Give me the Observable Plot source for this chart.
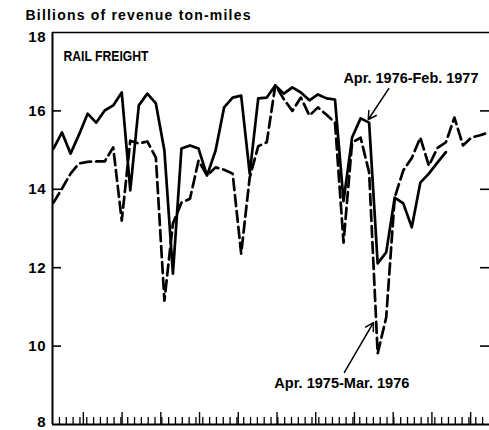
<!DOCTYPE html>
<html><head><meta charset="utf-8">
<script src="https://cdn.jsdelivr.net/npm/d3@7"></script>
<script src="https://cdn.jsdelivr.net/npm/@observablehq/plot@0.6"></script>
<style>body{margin:0;background:#fff}#chart{width:489px;height:430px}</style>
</head><body><div id="chart"></div>
<script>
// Weekly rail freight, billions of revenue ton-miles (week index from April)
const solidValues = [15.04, 15.45, 14.91, 15.40, 15.93, 15.70, 16.01, 16.14, 16.47, 13.97,
  16.14, 16.44, 16.19, 14.99, 11.85, 15.04, 15.12, 15.04, 14.35, 14.99,
  16.09, 16.34, 16.39, 14.40, 16.32, 16.34, 16.65, 16.44, 16.60, 16.47,
  16.27, 16.42, 16.32, 16.29, 13.70, 15.32, 15.81, 15.70, 12.11, 12.39,
  13.79, 13.64, 13.03, 14.17, 14.40, 14.68, 14.95];
const dashedValues = [13.66, 14.02, 14.40, 14.66, 14.70, 14.71, 14.71, 15.07, 13.20, 15.24,
  15.17, 15.22, 14.81, 11.16, 13.13, 13.66, 13.76, 14.73, 14.35, 14.56,
  14.50, 14.40, 12.36, 14.30, 15.10, 15.20, 16.65, 16.30, 16.00, 16.34,
  15.88, 16.09, 15.90, 15.70, 12.64, 15.19, 15.32, 14.43, 9.81, 10.73,
  13.79, 14.48, 14.80, 15.32, 14.60, 15.05, 15.20, 15.83, 15.12, 15.32,
  15.38, 15.45];
const yTickValues = [8, 10, 12, 14, 16, 18];
const yTickLabels = ["8", "10", "12", "14", "16", "18"];
const innerTickValues = [10, 12, 14, 16];
const minorTicks = d3.range(0.7, 51.1, 0.8);
const majorTicks = d3.range(3.5, 51.1, 4.54);
const titleText = "Billions of revenue ton-miles";
const panelLabel = "RAIL FREIGHT";
const seriesLabels = [
  {text: "Apr. 1976-Feb. 1977", x: 41.9, y: 16.70},
  {text: "Apr. 1975-Mar. 1976", x: 33.8, y: 8.92}
];
const arrowsData = [
  {x1: 39.3, y1: 16.57, x2: 36.9, y2: 15.78},
  {x1: 34.1, y1: 9.33, x2: 37.5, y2: 10.6}
];

const W = 489, H = 430, mL = 52, mR = 0, mT = 32, mB = 6;
const xDom = [-0.117, 51.11], yDom = [8, 18];
const pxX = (W - mL - mR) / (xDom[1] - xDom[0]);
const pxY = (H - mT - mB) / (yDom[1] - yDom[0]);
const sans = "'Liberation Sans', Arial, Helvetica, sans-serif";
const labelShift = d => d === 18 ? 5 : d === 8 ? -2 : 0;

const chart = Plot.plot({
  width: W, height: H,
  marginLeft: mL, marginRight: mR, marginTop: mT, marginBottom: mB,
  x: {domain: xDom, axis: null},
  y: {domain: yDom, axis: null},
  style: {background: "#fff", color: "#000"},
  marks: [
    Plot.ruleY([18], {stroke: "#000", strokeWidth: 1.6}),
    Plot.ruleY([8], {stroke: "#000", strokeWidth: 2}),
    Plot.ruleX([xDom[0]], {stroke: "#000", strokeWidth: 2}),
    Plot.ruleY(innerTickValues, {y: d => d, x1: xDom[0], x2: xDom[0] + 9 / pxX, stroke: "#000", strokeWidth: 1.6}),
    Plot.ruleY(innerTickValues, {y: d => d, x1: xDom[1] - 9 / pxX, x2: xDom[1], stroke: "#000", strokeWidth: 1.6}),
    Plot.ruleX(minorTicks, {x: d => d, y1: 8, y2: 8 + 7 / pxY, stroke: "#000", strokeWidth: 1.3}),
    Plot.ruleX(majorTicks, {x: d => d, y1: 8, y2: 8 + 12 / pxY, stroke: "#000", strokeWidth: 1.4}),
    Plot.line(dashedValues, {x: (d, i) => i, y: d => d, stroke: "#000", strokeWidth: 2.7, strokeDasharray: "11,5"}),
    Plot.line(solidValues, {x: (d, i) => i, y: d => d, stroke: "#000", strokeWidth: 2.7}),
    ...yTickValues.map(v => Plot.text([v], {y: d => d, text: d => yTickLabels[yTickValues.indexOf(d)], frameAnchor: "left", textAnchor: "end", dx: -6, dy: labelShift(v), fontSize: 15, fontWeight: "bold", fontFamily: sans, fill: "#000"})),
    Plot.text([titleText], {text: d => d, frameAnchor: "top-left", textAnchor: "start", lineAnchor: "bottom", dx: -27, dy: -13, fontSize: 14, fontWeight: "bold", fontFamily: sans, fill: "#000"}),
    Plot.text([panelLabel], {text: d => d, frameAnchor: "top-left", textAnchor: "start", lineAnchor: "bottom", dx: 11, dy: 28, fontSize: 14, fontWeight: "bold", fontFamily: sans, fill: "#000"}),
    Plot.text(seriesLabels, {x: "x", y: "y", text: "text", textAnchor: "middle", lineAnchor: "bottom", fontSize: 15.5, fontWeight: "bold", fontFamily: sans, fill: "#000"}),
    Plot.arrow(arrowsData, {x1: "x1", y1: "y1", x2: "x2", y2: "y2", stroke: "#000", strokeWidth: 1.5, headLength: 9, bend: 0})
  ]
});
d3.select(chart).selectAll("text").each(function() {
  const t = this.textContent;
  if (t === titleText) this.setAttribute("letter-spacing", "1.2");
  else if (t.startsWith("Apr.")) { this.setAttribute("textLength", "135"); this.setAttribute("lengthAdjust", "spacingAndGlyphs"); }
  else if (t === panelLabel) { this.setAttribute("textLength", "85"); this.setAttribute("lengthAdjust", "spacingAndGlyphs"); }
  else if (/^\d+$/.test(t)) this.setAttribute("letter-spacing", "0.8");
});
document.getElementById("chart").appendChild(chart);
</script>
</body></html>
